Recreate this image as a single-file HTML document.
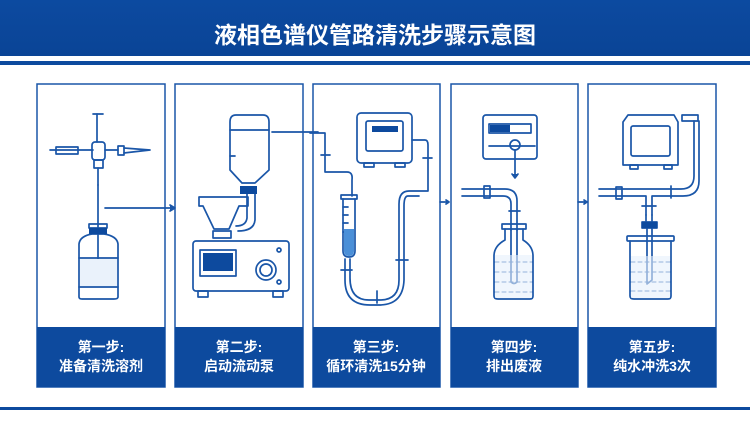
<!DOCTYPE html>
<html><head><meta charset="utf-8"><style>
html,body{margin:0;padding:0;background:#fff;width:750px;height:422px;overflow:hidden}
svg{display:block}
text{font-family:"Liberation Sans","Noto Sans CJK SC",sans-serif;font-weight:bold;fill:#fff}
</style></head><body>
<svg width="750" height="422" viewBox="0 0 750 422" xmlns="http://www.w3.org/2000/svg">
<defs><linearGradient id="hg" x1="0" y1="0" x2="0" y2="1"><stop offset="0" stop-color="#0c4aa0"/><stop offset="1" stop-color="#0a4496"/></linearGradient></defs>
<rect x="0" y="0" width="750" height="56" fill="url(#hg)"/>
<rect x="0" y="61" width="750" height="4" fill="#0d4a9e"/>
<text x="375" y="43" font-size="23" text-anchor="middle">液相色谱仪管路清洗步骤示意图</text>
<rect x="0" y="407" width="750" height="3" fill="#0d4a9e"/>
<g fill="none" stroke="#1a56a8" stroke-width="1.5">
<rect x="37" y="84" width="128" height="303"/>
<rect x="175" y="84" width="128" height="303"/>
<rect x="313" y="84" width="127" height="303"/>
<rect x="451" y="84" width="127" height="303"/>
<rect x="588" y="84" width="128" height="303"/>
</g>
<g fill="#0d4a9e">
<rect x="37" y="327" width="128" height="60"/>
<rect x="175" y="327" width="128" height="60"/>
<rect x="313" y="327" width="127" height="60"/>
<rect x="451" y="327" width="127" height="60"/>
<rect x="588" y="327" width="128" height="60"/>
</g>
<g font-size="14" text-anchor="middle">
<text x="101" y="352">第一步:</text><text x="101" y="371">准备清洗溶剂</text>
<text x="239" y="352">第二步:</text><text x="239" y="371">启动流动泵</text>
<text x="376" y="352">第三步:</text><text x="376" y="371">循环清洗15分钟</text>
<text x="514" y="352">第四步:</text><text x="514" y="371">排出废液</text>
<text x="652" y="352">第五步:</text><text x="652" y="371">纯水冲洗3次</text>
</g>
<g fill="none" stroke="#1a56a8" stroke-width="1.7" stroke-linecap="round" stroke-linejoin="round">
<!-- panel 1 -->
<line x1="50" y1="150" x2="93" y2="150"/><rect x="56" y="147" width="22" height="7"/>
<line x1="97" y1="114" x2="97" y2="142"/><line x1="93" y1="114" x2="103" y2="114"/>
<rect x="92" y="142" width="13" height="18" rx="3"/>
<line x1="105" y1="150" x2="118" y2="150"/><rect x="118" y="146" width="6" height="9"/>
<path d="M124 148 L150 150 L124 153"/>
<rect x="94" y="160" width="9" height="8"/><line x1="98" y1="168" x2="98" y2="185"/>
<line x1="98" y1="185" x2="98" y2="272"/>
<line x1="105" y1="208" x2="172" y2="208"/><path d="M170 205 L175 208 L170 211" fill="#1a56a8"/>
<rect x="89" y="224" width="18" height="4"/>
<path d="M79 244 Q80 236 92 234 L104 234 Q117 236 118 244 L118 297 Q118 299 114 299 L82 299 Q79 299 79 297 Z"/>
<line x1="79" y1="258" x2="118" y2="258"/>
<line x1="79" y1="287" x2="118" y2="287"/>
<!-- panel 2 -->
<path d="M230 122 Q230 115 236 115 L263 115 Q269 115 269 122 L269 170 L255 183 L242 183 L230 170 Z"/>
<line x1="230" y1="130" x2="269" y2="130"/><line x1="230" y1="156" x2="235" y2="156"/>
<line x1="272" y1="132" x2="318" y2="132"/>
<path d="M199 197 L248 197 L248 206 L239 206 L229 229 L214 229 L203 206 L199 206 Z"/>
<path d="M247 194 L247 218 Q246 226 236 226 M255 194 L255 220 Q254 231 238 231"/>
<rect x="213" y="231" width="18" height="7"/>
<rect x="193" y="241" width="96" height="50" rx="3"/>
<rect x="200" y="250" width="36" height="26"/>
<circle cx="266" cy="270" r="10"/><circle cx="266" cy="270" r="6"/>
<rect x="198" y="291" width="10" height="6"/><rect x="273" y="291" width="10" height="6"/>
<circle cx="279" cy="250" r="2"/><circle cx="279" cy="282" r="2"/>
<!-- panel 3 -->
<rect x="357" y="113" width="55" height="50" rx="4"/><rect x="366" y="121" width="37" height="30" rx="2"/>
<rect x="364" y="163" width="10" height="4"/><rect x="395" y="163" width="10" height="4"/>
<path d="M310 133 L325 133 L325 172 L347 172 Q353 172 352 180 L352 196"/>
<line x1="321" y1="155" x2="330" y2="155"/>
<path d="M412 140 L425 140 Q428 140 428 145 L428 191 L409 191 Q399 191 399 204 L399 280 Q399 300 380 300 L369 300 Q350 300 350 278 L350 259"/>
<path d="M419 196 L408 196 Q404 196 404 206 L404 280 Q403 305 379 305 L370 305 Q345 305 345 280 L345 259"/>
<line x1="423" y1="158" x2="432" y2="158"/>
<line x1="396" y1="260" x2="408" y2="260"/><line x1="377" y1="291" x2="377" y2="303"/>
<line x1="341" y1="270" x2="352" y2="270"/>
<rect x="341" y="195" width="16" height="4"/>
<path d="M343 199 L343 251 Q343 257 349 257 Q355 257 355 251 L355 199"/>
<line x1="343" y1="207" x2="348" y2="207"/><line x1="343" y1="215" x2="348" y2="215"/><line x1="343" y1="223" x2="348" y2="223"/><line x1="343" y1="232" x2="348" y2="232"/>
<line x1="440" y1="202" x2="448" y2="202"/><path d="M446 200 L449 202 L446 204" fill="#1a56a8"/>
<!-- panel 4 -->
<rect x="483" y="115" width="54" height="44" rx="3"/><rect x="489" y="124" width="42" height="9"/>
<line x1="489" y1="146" x2="535" y2="146"/><circle cx="515" cy="145" r="5"/>
<line x1="515" y1="150" x2="515" y2="176"/><path d="M512 174 L515 178 L518 174" fill="#1a56a8"/>
<path d="M462 189 L505 189 Q517 189 517 201 L517 230 M462 196 L503 196 Q511 196 511 204 L511 230"/>
<rect x="484" y="186" width="6" height="12"/>
<line x1="509" y1="211" x2="520" y2="211"/>
<rect x="502" y="224" width="24" height="5"/>
<path d="M505 229 L505 240 Q494 246 494 256 L494 296 Q494 299 498 299 L530 299 Q533 299 533 296 L533 256 Q533 246 523 240 L523 229"/>
<path d="M511 230 L511 282 Q514 285 517 282 L517 230"/>
<g stroke-dasharray="4 3" stroke-width="1"><line x1="495" y1="262" x2="532" y2="262"/><line x1="495" y1="272" x2="532" y2="272"/><line x1="495" y1="282" x2="532" y2="282"/><line x1="495" y1="292" x2="532" y2="292"/></g>
<line x1="578" y1="202" x2="586" y2="202"/><path d="M584 200 L587 202 L584 204" fill="#1a56a8"/>
<!-- panel 5 -->
<path d="M623 122 L628 115 L674 115 L678 122 L678 165 L623 165 Z"/><rect x="631" y="126" width="39" height="30" rx="2"/>
<rect x="630" y="165" width="8" height="4"/><rect x="664" y="165" width="8" height="4"/>
<rect x="682" y="115" width="16" height="6"/>
<path d="M599 189 L681 189 Q694 189 694 176 L694 121 M599 196 L646 196 L646 215 M652 215 L652 196 L683 196 Q699 196 699 181 L699 121"/>
<rect x="616" y="187" width="6" height="12"/>
<line x1="671" y1="186" x2="671" y2="198"/>
<line x1="642" y1="206" x2="656" y2="206"/>
<rect x="642" y="222" width="15" height="6"/>
<line x1="646" y1="215" x2="646" y2="222"/><line x1="652" y1="215" x2="652" y2="222"/>
<rect x="627" y="236" width="47" height="5" rx="1"/>
<path d="M630 241 L630 296 Q630 299 634 299 L668 299 Q671 299 671 296 L671 241"/>
<path d="M647 228 L647 284 L652 280 L652 228"/>
<g stroke-dasharray="4 3" stroke-width="1"><line x1="631" y1="262" x2="670" y2="262"/><line x1="631" y1="272" x2="670" y2="272"/><line x1="631" y1="282" x2="670" y2="282"/><line x1="631" y1="291" x2="670" y2="291"/></g>
</g>
<g fill="#0d4a9e">
<rect x="89" y="228" width="18" height="6"/>
<rect x="240" y="186" width="17" height="8"/>
<rect x="203" y="253" width="30" height="18"/>
<rect x="372" y="126" width="26" height="6"/>
<rect x="490" y="125" width="20" height="7"/>
<rect x="642" y="222" width="15" height="6"/>
</g>
<path d="M344 229 L354 229 L354 251 Q354 256 349 256 Q344 256 344 251 Z" fill="#4a8fd8"/>
<path d="M80 259 L117 259 L117 286 L80 286 Z" fill="#eaf2fb"/>
<path d="M495 255 L532 255 L532 298 L495 298 Z" fill="#e6f0fb" opacity=".6"/>
<path d="M631 256 L670 256 L670 298 L631 298 Z" fill="#e6f0fb" opacity=".6"/>
</svg>
</body></html>
